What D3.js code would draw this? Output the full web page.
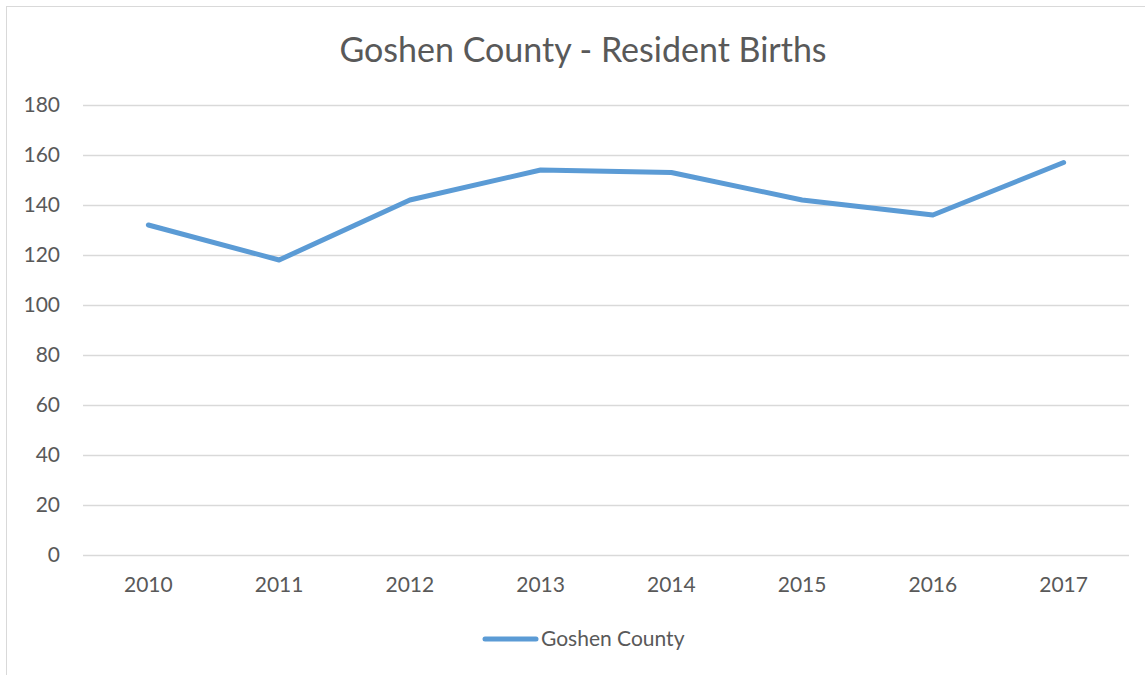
<!DOCTYPE html>
<html>
<head>
<meta charset="utf-8">
<script src="https://cdn.jsdelivr.net/npm/d3@7"></script>
<style>
  body { margin: 0; background: #fff; }
  svg text { font-family: Lato, "Open Sans", sans-serif; fill: #595959; }
</style>
</head>
<body>
<svg id="chart" width="1145" height="675"></svg>
<script>
var years = ['2010', '2011', '2012', '2013', '2014', '2015', '2016', '2017'],
    births = [132, 118, 142, 154, 153, 142, 136, 157],
    yTicks = [0, 20, 40, 60, 80, 100, 120, 140, 160, 180],
    seriesName = 'Goshen County',
    title = 'Goshen County - Resident Births';

var svg = d3.select('#chart'),
    margin = { left: 83, right: 1129, top: 105, bottom: 555 };

// chart frame
svg.append('rect')
    .attr('x', 6.5)
    .attr('y', 6.5)
    .attr('width', 1150)
    .attr('height', 680)
    .attr('fill', 'none')
    .attr('stroke', '#d9d9d9')
    .attr('stroke-width', 1);

var x = d3.scaleBand()
    .domain(years)
    .range([margin.left, margin.right]);

var y = d3.scaleLinear()
    .domain([0, 180])
    .range([margin.bottom, margin.top]);

// gridlines
svg.append('g')
    .selectAll('line')
    .data(yTicks)
    .enter()
    .append('line')
    .attr('x1', margin.left)
    .attr('x2', margin.right)
    .attr('y1', function(d) { return Math.round(y(d)) + 0.5; })
    .attr('y2', function(d) { return Math.round(y(d)) + 0.5; })
    .attr('stroke', '#d9d9d9')
    .attr('stroke-width', 1.5);

// y labels
svg.append('g')
    .selectAll('text')
    .data(yTicks)
    .enter()
    .append('text')
    .attr('x', 60)
    .attr('y', function(d) { return y(d); })
    .attr('dy', '0.35em')
    .attr('text-anchor', 'end')
    .style('font-size', '21px')
    .text(function(d) { return d; });

// x labels
svg.append('g')
    .selectAll('text')
    .data(years)
    .enter()
    .append('text')
    .attr('x', function(d) { return x(d) + x.bandwidth() / 2; })
    .attr('y', 585)
    .attr('dy', '0.35em')
    .attr('text-anchor', 'middle')
    .style('font-size', '21px')
    .text(function(d) { return d; });

var line = d3.line()
    .x(function(d, i) { return x(years[i]) + x.bandwidth() / 2; })
    .y(function(d) { return y(d); });

svg.append('path')
    .datum(births)
    .attr('d', line)
    .attr('fill', 'none')
    .attr('stroke', '#5b9bd5')
    .attr('stroke-width', 5)
    .attr('stroke-linecap', 'round')
    .attr('stroke-linejoin', 'round');

// title
svg.append('text')
    .attr('x', 583)
    .attr('y', 50)
    .attr('dy', '0.35em')
    .attr('text-anchor', 'middle')
    .style('font-size', '34px')
    .text(title);

// legend
svg.append('line')
    .attr('x1', 485)
    .attr('x2', 536)
    .attr('y1', 639)
    .attr('y2', 639)
    .attr('stroke', '#5b9bd5')
    .attr('stroke-width', 5)
    .attr('stroke-linecap', 'round');

svg.append('text')
    .attr('x', 541)
    .attr('y', 639)
    .attr('dy', '0.35em')
    .style('font-size', '21px')
    .text(seriesName);
</script>
</body>
</html>
